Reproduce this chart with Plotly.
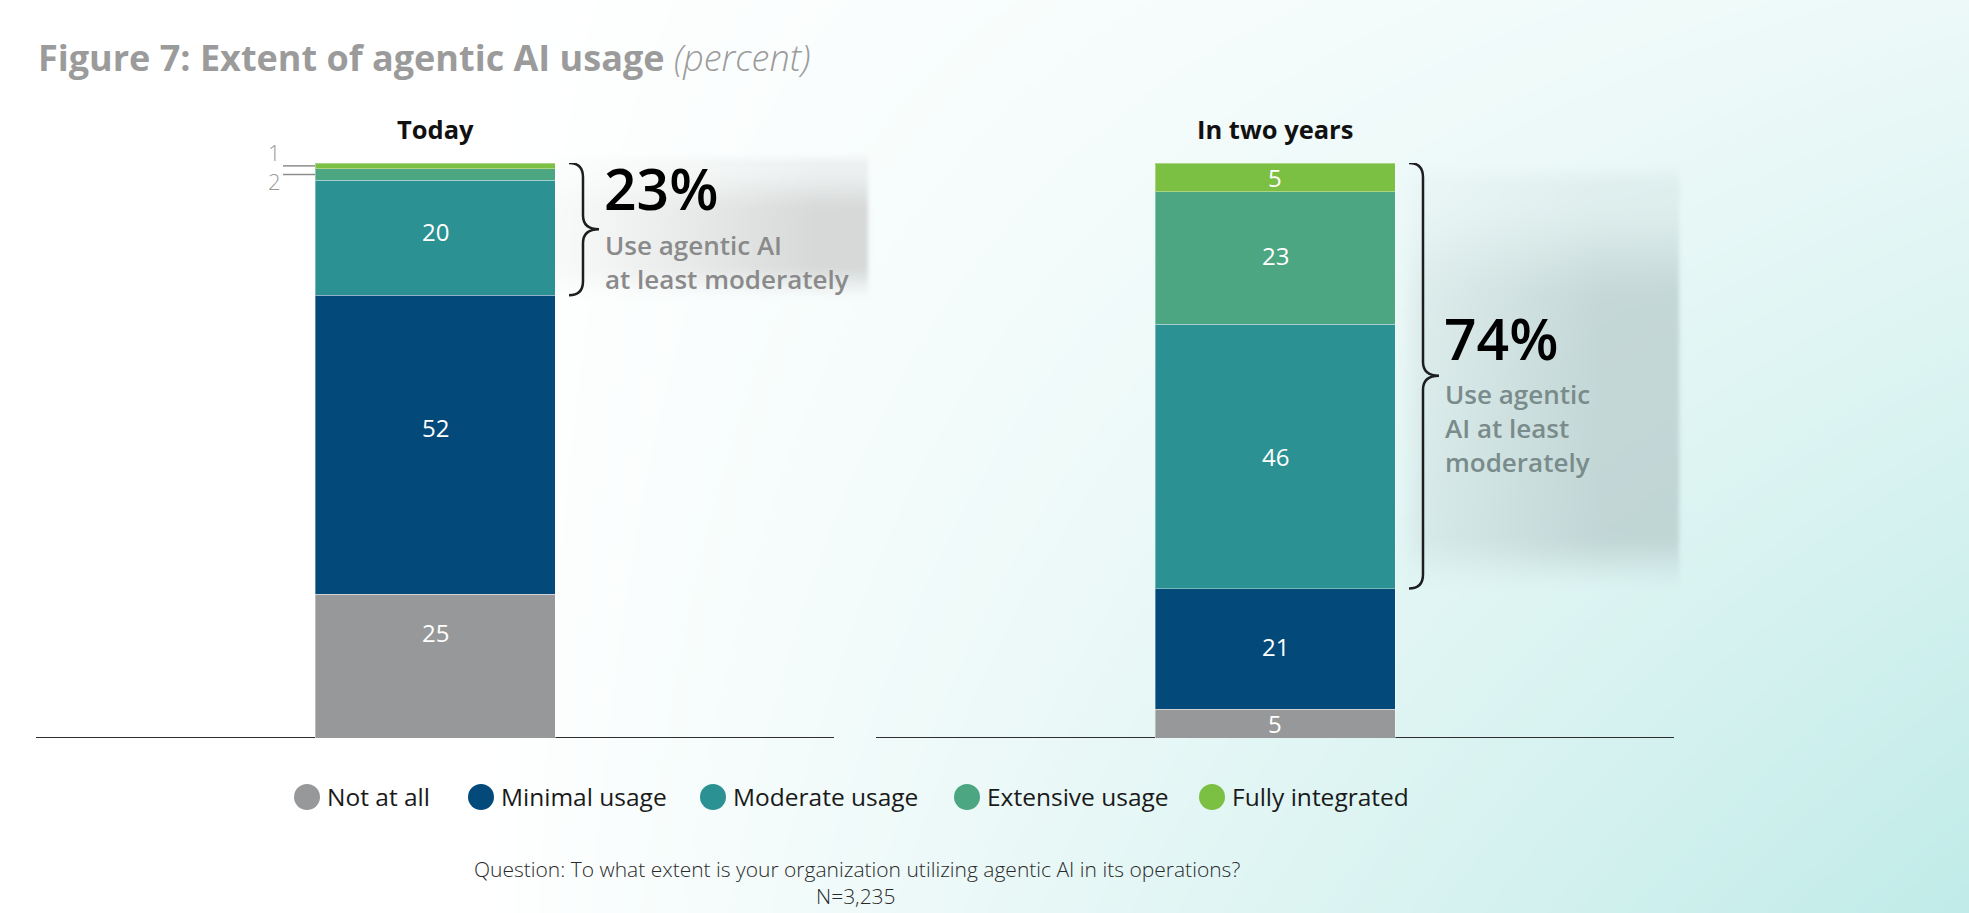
import base64
import struct
import zlib

import numpy as np
import plotly.graph_objects as go

# ---------------- data ----------------
CATEGORIES = ["Not at all", "Minimal usage", "Moderate usage", "Extensive usage", "Fully integrated"]
PANELS = ["Today", "In two years"]
TODAY = [25, 52, 20, 2, 1]
IN_TWO_YEARS = [5, 21, 46, 23, 5]
AT_LEAST_MODERATELY = [23, 74]
COLORS = ["#97989a", "#03497a", "#2c9192", "#4ca682", "#7bbf43"]

TITLE = "Figure 7: Extent of agentic AI usage"
UNIT = "(percent)"
CALLOUT_LINES = [["Use agentic AI", "at least moderately"], ["Use agentic", "AI at least", "moderately"]]
QUESTION = "Question: To what extent is your organization utilizing agentic AI in its operations?"
SAMPLE = "N=3,235"

# ---------------- geometry (pixels) ----------------
W, H = 1969, 913
PLOT_TOP, PLOT_BOTTOM = 163, 738
PANEL_PX = [(36, 834), (876, 1674)]
BAR_W_PX = 240
Y_SCALE = (PLOT_BOTTOM - PLOT_TOP) / 100.0
FONT = "Open Sans"


def px_to_paper_x(px):
    return px / W


def px_to_paper_y(py):
    return 1 - py / H


def panel_center(p):
    lo, hi = PANEL_PX[p]
    return (lo + hi) / 2


def xdata(px, p):
    lo, hi = PANEL_PX[p]
    return (px - (lo + hi) / 2) / (hi - lo)


BAR_W = BAR_W_PX / (PANEL_PX[0][1] - PANEL_PX[0][0])


# ---------------- background image ----------------
def smoothstep(a, b, x):
    s = np.clip((x - a) / (b - a), 0, 1)
    return s * s * (3 - 2 * s)


def edge(x, at, soft=1.2):
    return 1.0 / (1.0 + np.exp(np.clip((x - at) / soft, -60, 60)))


def background_uri():
    w, h = 985, 457
    X = (np.arange(w) + 0.5) * W / w
    Y = (np.arange(h) + 0.5) * H / h
    X, Y = np.meshgrid(X, Y)
    white = np.array([255.0, 255.0, 255.0])
    cyan = np.array([192.0, 235.0, 232.0])
    t = np.clip((X - 480) / 1489, 0, 1) * (0.3 + 0.7 * Y / H)
    img = white * (1 - t[..., None]) + cyan * t[..., None]
    # soft grey panel behind the left call-out
    hx = (0.15 + 0.85 * np.clip((X - 555) / 260, 0, 1) ** 1.2) * smoothstep(545, 562, X) * edge(X, 868)
    vy = (0.35 * smoothstep(152, 166, Y) + 0.65 * smoothstep(168, 215, Y)) * (1 - smoothstep(262, 302, Y))
    a = (0.6 * hx * vy)[..., None]
    img = img * (1 - a) + np.array([193.0, 193.0, 193.0]) * a
    # soft grey panel behind the right call-out
    hx = (0.3 + 0.7 * np.clip((X - 1400) / 200, 0, 1)) * smoothstep(1395, 1425, X) * edge(X, 1679)
    vy = (0.3 * smoothstep(160, 190, Y) + 0.7 * smoothstep(195, 310, Y)) * (1 - smoothstep(530, 595, Y))
    a = (0.47 * hx * vy)[..., None]
    img = img * (1 - a) + np.array([160.0, 180.0, 180.0]) * a
    arr = np.clip(np.round(img), 0, 255).astype(np.uint8)

    rows = []
    for i in range(h):
        r = arr[i].reshape(-1).astype(np.int16)
        f = r.copy()
        f[3:] = (r[3:] - r[:-3]) % 256
        rows.append(b"\x01" + f.astype(np.uint8).tobytes())
    raw = b"".join(rows)

    def chunk(tag, data):
        return struct.pack(">I", len(data)) + tag + data + struct.pack(">I", zlib.crc32(tag + data) & 0xFFFFFFFF)

    png = b"\x89PNG\r\n\x1a\n"
    png += chunk(b"IHDR", struct.pack(">IIBBBBB", w, h, 8, 2, 0, 0, 0))
    png += chunk(b"IDAT", zlib.compress(raw, 9))
    png += chunk(b"IEND", b"")
    return "data:image/png;base64," + base64.b64encode(png).decode("ascii")


# ---------------- figure ----------------
fig = go.Figure()
panel_values = [TODAY, IN_TWO_YEARS]
AXES = [("x", "y"), ("x2", "y2")]

for p, vals in enumerate(panel_values):
    xa, ya = AXES[p]
    for c, v in enumerate(vals):
        fig.add_trace(go.Bar(
            x=[0], y=[v], width=BAR_W, name=CATEGORIES[c],
            marker=dict(color=COLORS[c], line=dict(width=1, color="rgba(255,255,255,0.35)")),
            xaxis=xa, yaxis=ya, showlegend=False, hoverinfo="skip",
        ))

annotations = []
shapes = []

LABEL_SHIFT = [[34, 17, 6.5, 0, 0], [0, 2, 0, 2, 0]]

for p, vals in enumerate(panel_values):
    xa, ya = AXES[p]
    base = 0
    small = []  # (value, segment middle) for slivers labelled outside the bar
    for c, v in enumerate(vals):
        mid = base + v / 2
        if v >= 5:
            annotations.append(dict(
                xref=xa, yref=ya, x=0, y=mid, text=str(v), showarrow=False,
                xanchor="center", yanchor="middle", yshift=LABEL_SHIFT[p][c],
                font=dict(family=FONT, size=24, color="white"),
            ))
        else:
            small.append((v, mid))
        base += v

    if small:
        left_px = panel_center(p) - BAR_W_PX / 2
        for v, mid in small:
            shapes.append(dict(
                type="line", xref=xa, yref=ya, x0=xdata(left_px - 32, p), x1=-BAR_W / 2,
                y0=mid, y1=mid, line=dict(color="#8c8c8c", width=1.5),
            ))
        mids = [m for _, m in small]
        annotations.append(dict(
            xref=xa, yref=ya, x=xdata(left_px - 33, p), y=sum(mids) / len(mids),
            text="<br>".join(str(v) for v, _ in reversed(small)), showarrow=False,
            xanchor="right", yanchor="middle", align="right", yshift=3.5, borderpad=0,
            font=dict(family=FONT, size=22, color="#9a9a9a", weight=300),
        ))

    # baseline
    shapes.append(dict(
        type="line", xref=f"{xa} domain", yref=ya, x0=0, x1=1, y0=0, y1=0,
        line=dict(color="#2f2f2f", width=2), layer="below",
    ))

    # panel title
    annotations.append(dict(
        xref="paper", yref="paper", x=px_to_paper_x(panel_center(p)), y=px_to_paper_y(128.5),
        text=f"<b>{PANELS[p]}</b>", showarrow=False, xanchor="center", yanchor="middle",
        font=dict(family=FONT, size=25.5, color="#111111"),
    ))

    # curly brace over the "at least moderately" segments
    right_px = panel_center(p) + BAR_W_PX / 2
    bx0 = xdata(right_px + 14, p)
    bx1 = xdata(right_px + 28, p)
    bx2 = xdata(right_px + 44, p)
    yt = sum(vals)
    yb = vals[0] + vals[1]
    ym = (yt + yb) / 2
    r = 14 / Y_SCALE
    path = (f"M {bx0},{yt} Q {bx1},{yt} {bx1},{yt - r} L {bx1},{ym + r} "
            f"Q {bx1},{ym} {bx2},{ym} Q {bx1},{ym} {bx1},{ym - r} "
            f"L {bx1},{yb + r} Q {bx1},{yb} {bx0},{yb}")
    shapes.append(dict(type="path", xref=xa, yref=ya, path=path,
                       line=dict(color="#1e1e1e", width=2.5)))

# call-out texts
CALLOUT_BIG_Y = [187.5, 338]
CALLOUT_BLOCK_Y = [262, 428]
CALLOUT_COLOR = ["#8a8a8a", "#7a8b8b"]
for p in range(2):
    text_x = panel_center(p) + BAR_W_PX / 2 + 51
    annotations.append(dict(
        xref="paper", yref="paper", x=px_to_paper_x(text_x - 3), y=px_to_paper_y(CALLOUT_BIG_Y[p]),
        text=f"{AT_LEAST_MODERATELY[p]}%", showarrow=False, xanchor="left", yanchor="middle",
        borderpad=0,
        font=dict(family=FONT, size=57, color="#000000", weight=600),
    ))
    annotations.append(dict(
        xref="paper", yref="paper", x=px_to_paper_x(text_x - 2), y=px_to_paper_y(CALLOUT_BLOCK_Y[p]),
        text="<br>".join(CALLOUT_LINES[p]), showarrow=False, xanchor="left", yanchor="middle",
        align="left", borderpad=0,
        font=dict(family=FONT, size=26, color=CALLOUT_COLOR[p], weight=600),
    ))

# title
annotations.append(dict(
    xref="paper", yref="paper", x=px_to_paper_x(36), y=px_to_paper_y(57.5),
    text=f"<b>{TITLE}</b> <i><span style='font-weight:300'>{UNIT}</span></i>",
    showarrow=False, xanchor="left", yanchor="middle",
    font=dict(family=FONT, size=36, color="#9b9b9b"),
))

# legend (custom circles + labels)
LEGEND_CX = [307, 481, 713, 967, 1212]
LEGEND_Y = 797
for c, name in enumerate(CATEGORIES):
    shapes.append(dict(
        type="circle", xref="paper", yref="paper", xsizemode="pixel", ysizemode="pixel",
        xanchor=px_to_paper_x(LEGEND_CX[c]), yanchor=px_to_paper_y(LEGEND_Y),
        x0=-13, x1=13, y0=-13, y1=13, fillcolor=COLORS[c], line=dict(width=0),
    ))
    annotations.append(dict(
        xref="paper", yref="paper", x=px_to_paper_x(LEGEND_CX[c] + 18), y=px_to_paper_y(LEGEND_Y - 1),
        text=name, showarrow=False, xanchor="left", yanchor="middle",
        font=dict(family=FONT, size=24.5, color="#1a1a1a"),
    ))

# footnote
annotations.append(dict(
    xref="paper", yref="paper", x=px_to_paper_x(857), y=px_to_paper_y(869),
    text=QUESTION, showarrow=False, xanchor="center", yanchor="middle",
    font=dict(family=FONT, size=21, color="#2a2a2a", weight=300),
))
annotations.append(dict(
    xref="paper", yref="paper", x=px_to_paper_x(856), y=px_to_paper_y(896),
    text=SAMPLE, showarrow=False, xanchor="center", yanchor="middle",
    font=dict(family=FONT, size=21, color="#2a2a2a", weight=300),
))

y_domain = [px_to_paper_y(PLOT_BOTTOM), px_to_paper_y(PLOT_TOP)]
axis_common = dict(visible=False, showgrid=False, zeroline=False, fixedrange=True)
fig.update_layout(
    width=W, height=H,
    margin=dict(l=0, r=0, t=0, b=0, pad=0, autoexpand=False),
    barmode="stack",
    paper_bgcolor="white",
    plot_bgcolor="rgba(0,0,0,0)",
    showlegend=False,
    font=dict(family=FONT),
    xaxis=dict(domain=[px_to_paper_x(PANEL_PX[0][0]), px_to_paper_x(PANEL_PX[0][1])],
               range=[-0.5, 0.5], anchor="y", **axis_common),
    yaxis=dict(domain=y_domain, range=[0, 100], anchor="x", **axis_common),
    xaxis2=dict(domain=[px_to_paper_x(PANEL_PX[1][0]), px_to_paper_x(PANEL_PX[1][1])],
                range=[-0.5, 0.5], anchor="y2", **axis_common),
    yaxis2=dict(domain=y_domain, range=[0, 100], anchor="x2", **axis_common),
    annotations=annotations,
    shapes=shapes,
    images=[dict(source=background_uri(), xref="paper", yref="paper", x=0, y=1,
                 sizex=1, sizey=1, xanchor="left", yanchor="top", sizing="stretch",
                 layer="below")],
)

fig.write_html("out.html")
